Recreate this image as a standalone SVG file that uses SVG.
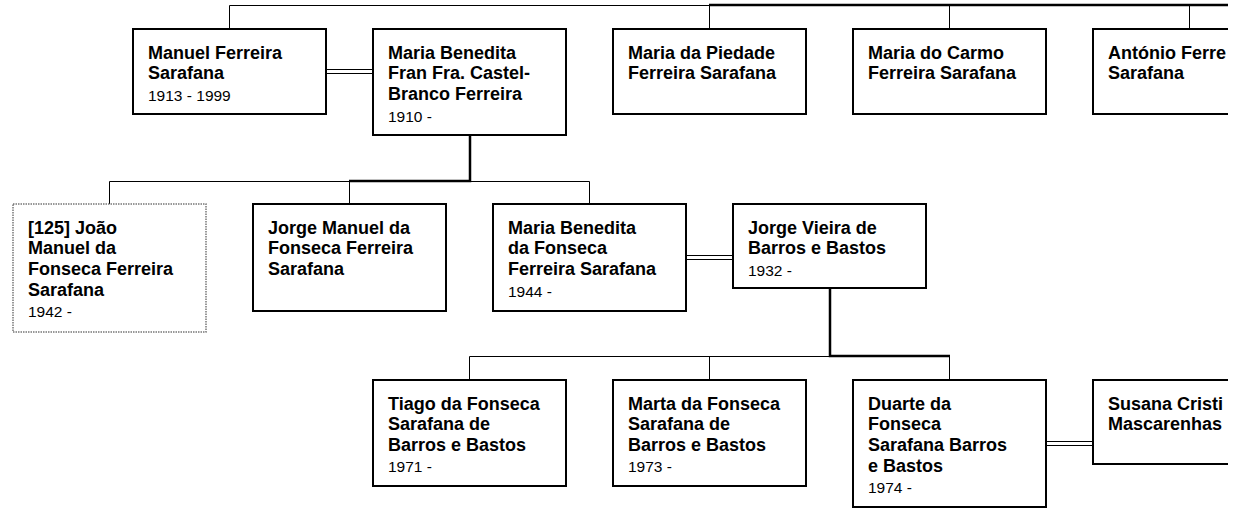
<svg xmlns="http://www.w3.org/2000/svg" width="1245" height="509" viewBox="0 0 1245 509">
<style>
.box{fill:#fff;stroke:#000;stroke-width:2}
.dot{fill:#fff;stroke:#777;stroke-width:1.5;stroke-dasharray:1.5 1}
.n{font-family:"Liberation Sans",Arial,sans-serif;font-size:18px;font-weight:bold;fill:#000}
.d{font-family:"Liberation Sans",Arial,sans-serif;font-size:15.5px;fill:#000}
.thin{stroke:#000;stroke-width:1;fill:none}
.thick{stroke:#000;stroke-width:2.5;fill:none}
</style>
<defs>
<clipPath id="page"><rect x="0" y="0" width="1228" height="509"/></clipPath>
</defs>
<rect width="1245" height="509" fill="#fff"/>
<g clip-path="url(#page)">
<g id="connectors">
<path class="thin" d="M229.5 5.5H709.5M229.5 5.5V29M709.5 5.5V29M949.5 5.5V29M1189.5 5.5V29"/>
<path class="thick" d="M709 5H1240"/>
<path class="thin" d="M326 69.5H373M326 73.5H373"/>
<path class="thick" d="M470 135V181H349"/>
<path class="thin" d="M109.5 181.5H349.5M470 181.5H589.5M109.5 181.5V204M349.5 181.5V204M589.5 181.5V204"/>
<path class="thin" d="M686 255.5H733M686 259.5H733"/>
<path class="thick" d="M830 288V356H950"/>
<path class="thin" d="M469.5 356.5H830M469.5 356.5V380M709.5 356.5V380M949.5 356.5V380"/>
<path class="thin" d="M1046 441.5H1093M1046 445.5H1093"/>
</g>
<g id="manuel">
<rect class="box" x="133" y="29" width="193" height="85"/>
<text class="n" x="148" y="58.5">Manuel Ferreira<tspan x="148" dy="20.7">Sarafana</tspan></text>
<text class="d" x="148" y="100.5">1913 - 1999</text>
</g>
<g id="maria-benedita">
<rect class="box" x="373" y="29" width="193" height="106"/>
<text class="n" x="388" y="58.5">Maria Benedita<tspan x="388" dy="20.7">Fran Fra. Castel-</tspan><tspan x="388" dy="20.7">Branco Ferreira</tspan></text>
<text class="d" x="388" y="121.5">1910 -</text>
</g>
<g id="maria-piedade">
<rect class="box" x="613" y="29" width="193" height="85"/>
<text class="n" x="628" y="58.5">Maria da Piedade<tspan x="628" dy="20.7">Ferreira Sarafana</tspan></text>
</g>
<g id="maria-carmo">
<rect class="box" x="853" y="29" width="193" height="85"/>
<text class="n" x="868" y="58.5">Maria do Carmo<tspan x="868" dy="20.7">Ferreira Sarafana</tspan></text>
</g>
<g id="antonio">
<rect class="box" x="1093" y="29" width="193" height="85"/>
<text class="n" x="1108" y="58.5">António Ferre<tspan x="1108" dy="20.7">Sarafana</tspan></text>
</g>
<g id="joao">
<rect class="dot" x="13" y="204" width="193" height="128"/>
<text class="n" x="28" y="233.5">[125] João<tspan x="28" dy="20.7">Manuel da</tspan><tspan x="28" dy="20.7">Fonseca Ferreira</tspan><tspan x="28" dy="20.7">Sarafana</tspan></text>
<text class="d" x="28" y="317">1942 -</text>
</g>
<g id="jorge-manuel">
<rect class="box" x="253" y="204" width="193" height="107"/>
<text class="n" x="268" y="233.5">Jorge Manuel da<tspan x="268" dy="20.7">Fonseca Ferreira</tspan><tspan x="268" dy="20.7">Sarafana</tspan></text>
</g>
<g id="maria-benedita-fonseca">
<rect class="box" x="493" y="204" width="193" height="107"/>
<text class="n" x="508" y="233.5">Maria Benedita<tspan x="508" dy="20.7">da Fonseca</tspan><tspan x="508" dy="20.7">Ferreira Sarafana</tspan></text>
<text class="d" x="508" y="296.5">1944 -</text>
</g>
<g id="jorge-vieira">
<rect class="box" x="733" y="204" width="193" height="84"/>
<text class="n" x="748" y="233.5">Jorge Vieira de<tspan x="748" dy="20.7">Barros e Bastos</tspan></text>
<text class="d" x="748" y="275.5">1932 -</text>
</g>
<g id="tiago">
<rect class="box" x="373" y="380" width="193" height="106"/>
<text class="n" x="388" y="409.5">Tiago da Fonseca<tspan x="388" dy="20.7">Sarafana de</tspan><tspan x="388" dy="20.7">Barros e Bastos</tspan></text>
<text class="d" x="388" y="472">1971 -</text>
</g>
<g id="marta">
<rect class="box" x="613" y="380" width="193" height="106"/>
<text class="n" x="628" y="409.5">Marta da Fonseca<tspan x="628" dy="20.7">Sarafana de</tspan><tspan x="628" dy="20.7">Barros e Bastos</tspan></text>
<text class="d" x="628" y="472">1973 -</text>
</g>
<g id="duarte">
<rect class="box" x="853" y="380" width="193" height="127"/>
<text class="n" x="868" y="409.5">Duarte da<tspan x="868" dy="20.7">Fonseca</tspan><tspan x="868" dy="20.7">Sarafana Barros</tspan><tspan x="868" dy="20.7">e Bastos</tspan></text>
<text class="d" x="868" y="493">1974 -</text>
</g>
<g id="susana">
<rect class="box" x="1093" y="380" width="193" height="84"/>
<text class="n" x="1108" y="409.5">Susana Cristi<tspan x="1108" dy="20.7">Mascarenhas</tspan></text>
</g>
</g>
</svg>
